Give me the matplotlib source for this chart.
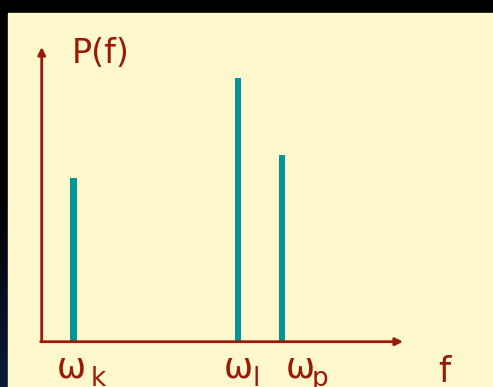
import numpy as np
import matplotlib
matplotlib.use("Agg")
import matplotlib.pyplot as plt
from matplotlib.patches import Rectangle

# Spectral lines: frequency position and power
labels = ["k", "l", "p"]
freqs = [1.0, 6.13, 7.5]
power = [1.64, 2.64, 1.87]

W, H = 493, 387
PANEL = "#FFF8CC"
RED = "#9A1A08"
TEAL = "#009696"

fig = plt.figure(figsize=(W / 100, H / 100), dpi=100)
fig.patch.set_facecolor("black")


def fx(px):
    return px / W


def fy(py):
    return 1 - py / H


# Backdrop: dark frame with a faint navy fade on the left edge, pale panel
bg = fig.add_axes([0, 0, 1, 1])
bg.set_xlim(0, W)
bg.set_ylim(H, 0)
bg.axis("off")
grad = np.linspace(0, 1, 256).reshape(-1, 1)
cmap = matplotlib.colors.LinearSegmentedColormap.from_list(
    "edge", ["#000000", "#000000", "#0c1a38"])
bg.imshow(grad, extent=[0, 8, H, 0], cmap=cmap, aspect="auto")
bg.add_patch(Rectangle((8, 13), W - 8, H - 13, color=PANEL, zorder=2))

# Plot area: origin at the corner of the arrows
x0, y0, x1, y1 = 41.7, 341.7, 403, 47
ax = fig.add_axes([fx(x0), fy(y0), (x1 - x0) / W, (y0 - y1) / H])
ax.set_facecolor("none")
ax.axis("off")
ax.set_xlim(0, 11.28)
ax.set_ylim(0, 2.95)

ax.bar(freqs, power, width=0.21, color=TEAL, zorder=2)

arrow = dict(arrowstyle="-|>", color=RED, lw=2, mutation_scale=11,
             shrinkA=0, shrinkB=0)
ax.annotate("", xy=(1, 0), xytext=(-0.003, 0), xycoords="axes fraction",
            arrowprops=arrow, zorder=3, annotation_clip=False)
ax.annotate("", xy=(0, 1), xytext=(0, 0), xycoords="axes fraction",
            arrowprops=arrow, zorder=3, annotation_clip=False)

# Axis titles
fig.text(fx(72), fy(63), "P(f)", color=RED, fontsize=24, va="baseline",
         ha="left", family="DejaVu Sans")
fig.text(fx(438), fy(382), "f", color=RED, fontsize=25, va="baseline",
         ha="left", family="DejaVu Sans")

# Line labels: omega with its subscript
omega_left = [58, 225, 287]
sub_left = [91, 252, 312]
for lab, ol, sl in zip(labels, omega_left, sub_left):
    fig.text(fx(ol - 1), fy(377), "\u03c9", color=RED, fontsize=25,
             va="baseline", ha="left", family="DejaVu Sans")
    fig.text(fx(sl), fy(386), lab, color=RED, fontsize=19,
             va="baseline", ha="left", family="DejaVu Sans")

fig.savefig("out.png", dpi=100, facecolor=fig.get_facecolor())
